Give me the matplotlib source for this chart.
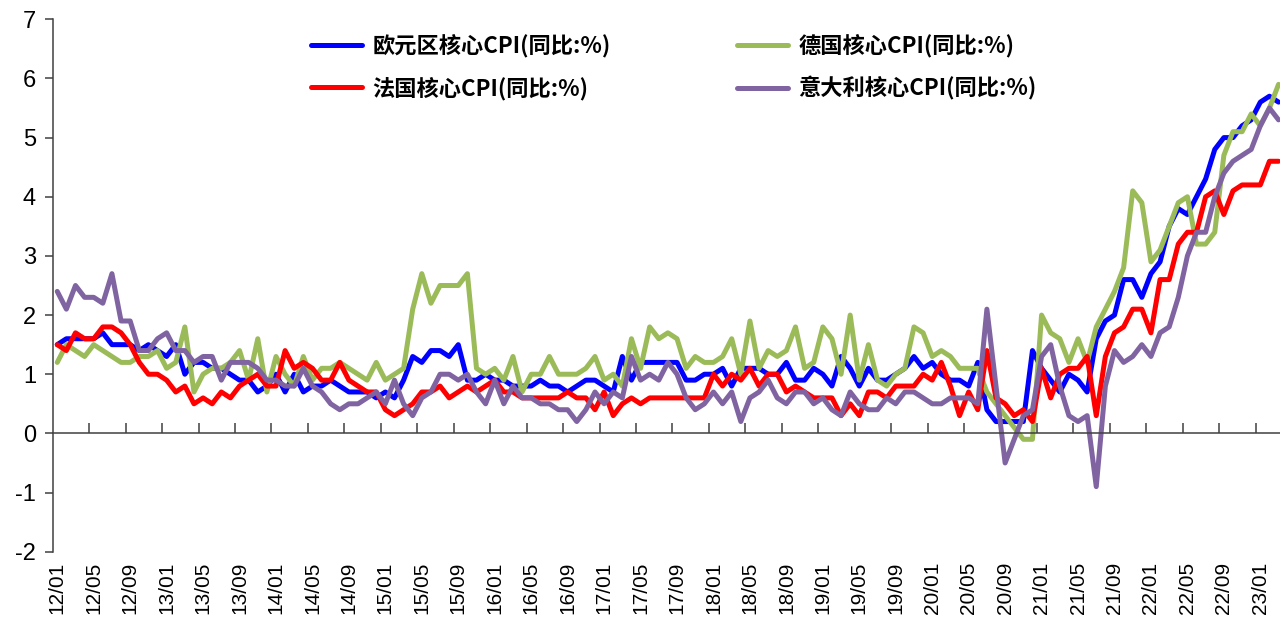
import matplotlib
matplotlib.use("Agg")
import matplotlib.pyplot as plt
from matplotlib.lines import Line2D
from matplotlib.font_manager import FontProperties

# ---- data (monthly, 2012/01 .. 2023/03) ----
months = [f"{12 + k // 12:02d}/{k % 12 + 1:02d}" for k in range(135)]
tick_labels = months[::4]

ez_core = [1.5, 1.6, 1.6, 1.6, 1.6, 1.7, 1.5, 1.5, 1.5, 1.4, 1.5, 1.4,
           1.3, 1.5, 1.0, 1.2, 1.2, 1.1, 1.1, 1.0, 0.9, 0.9, 0.7, 0.8,
           1.0, 0.7, 1.0, 0.7, 0.8, 0.8, 0.9, 0.8, 0.7, 0.7,
           0.7, 0.6, 0.7, 0.6, 0.9, 1.3, 1.2, 1.4, 1.4, 1.3, 1.5, 0.9,
           0.9, 1.0, 0.9, 0.9, 0.8, 0.8, 0.8, 0.9, 0.8, 0.8, 0.7, 0.8,
           0.9, 0.9, 0.8, 0.7, 1.3, 0.9, 1.2, 1.2, 1.2,
           1.2, 1.2, 0.9, 0.9, 1.0, 1.0, 1.1, 0.8, 1.1, 1.1, 1.1, 1.0,
           1.0, 1.2, 0.9, 0.9, 1.1, 1.0, 0.8, 1.3, 1.1, 0.8, 1.1, 0.9,
           0.9, 1.0, 1.1, 1.3, 1.1, 1.2, 1.0, 0.9, 0.9, 0.8, 1.2,
           0.4, 0.2, 0.2, 0.2, 0.2, 1.4, 1.1, 0.9, 0.7, 1.0, 0.9, 0.7,
           1.6, 1.9, 2.0, 2.6, 2.6, 2.3, 2.7, 2.9, 3.5, 3.8, 3.7, 4.0,
           4.3, 4.8, 5.0, 5.0, 5.2, 5.3, 5.6, 5.7, 5.6]

de_core = [1.2, 1.5, 1.4, 1.3, 1.5, 1.4, 1.3, 1.2, 1.2, 1.3, 1.3, 1.4,
           1.1, 1.2, 1.8, 0.7, 1.0, 1.1, 1.1, 1.2, 1.4, 0.9, 1.6, 0.7,
           1.3, 1.0, 0.8, 1.3, 0.9, 1.1, 1.1, 1.2, 1.1, 1.0,
           0.9, 1.2, 0.9, 1.0, 1.1, 2.1, 2.7, 2.2, 2.5, 2.5, 2.5, 2.7,
           1.1, 1.0, 1.1, 0.9, 1.3, 0.7, 1.0, 1.0, 1.3, 1.0, 1.0, 1.0,
           1.1, 1.3, 0.9, 1.0, 0.8, 1.6, 1.1, 1.8, 1.6,
           1.7, 1.6, 1.1, 1.3, 1.2, 1.2, 1.3, 1.6, 1.0, 1.9, 1.1, 1.4,
           1.3, 1.4, 1.8, 1.1, 1.2, 1.8, 1.6, 1.0, 2.0, 0.9, 1.5, 0.9,
           0.8, 1.0, 1.1, 1.8, 1.7, 1.3, 1.4, 1.3, 1.1, 1.1, 1.1,
           0.7, 0.5, 0.3, 0.1, -0.1, -0.1, 2.0, 1.7, 1.6, 1.2, 1.6, 1.2,
           1.8, 2.1, 2.4, 2.8, 4.1, 3.9, 2.9, 3.1, 3.5, 3.9, 4.0, 3.2,
           3.2, 3.4, 4.7, 5.1, 5.1, 5.4, 5.2, 5.5, 5.9]

fr_core = [1.5, 1.4, 1.7, 1.6, 1.6, 1.8, 1.8, 1.7, 1.5, 1.2, 1.0, 1.0,
           0.9, 0.7, 0.8, 0.5, 0.6, 0.5, 0.7, 0.6, 0.8, 0.9, 1.0, 0.8,
           0.8, 1.4, 1.1, 1.2, 1.1, 0.9, 0.9, 1.2, 0.9, 0.8,
           0.7, 0.7, 0.4, 0.3, 0.4, 0.5, 0.7, 0.7, 0.8, 0.6, 0.7, 0.8,
           0.7, 0.8, 0.9, 0.7, 0.7, 0.6, 0.6, 0.6, 0.6, 0.6, 0.7, 0.6,
           0.6, 0.4, 0.7, 0.3, 0.5, 0.6, 0.5, 0.6, 0.6,
           0.6, 0.6, 0.6, 0.6, 0.6, 1.0, 0.8, 1.0, 0.9, 1.1, 0.8, 1.0,
           1.0, 0.7, 0.8, 0.7, 0.6, 0.6, 0.6, 0.3, 0.5, 0.3, 0.7, 0.7,
           0.6, 0.8, 0.8, 0.8, 1.0, 0.9, 1.2, 0.8, 0.3, 0.7, 0.4,
           1.4, 0.6, 0.5, 0.3, 0.4, 0.2, 1.1, 0.6, 1.0, 1.1, 1.1, 1.3,
           0.3, 1.3, 1.7, 1.8, 2.1, 2.1, 1.7, 2.6, 2.6, 3.2, 3.4, 3.4,
           4.0, 4.1, 3.7, 4.1, 4.2, 4.2, 4.2, 4.6, 4.6]

it_core = [2.4, 2.1, 2.5, 2.3, 2.3, 2.2, 2.7, 1.9, 1.9, 1.4, 1.4, 1.6,
           1.7, 1.4, 1.4, 1.2, 1.3, 1.3, 0.9, 1.2, 1.2, 1.2, 1.1, 0.9,
           0.9, 0.8, 0.8, 1.1, 0.8, 0.7, 0.5, 0.4, 0.5, 0.5,
           0.6, 0.7, 0.5, 0.9, 0.5, 0.3, 0.6, 0.7, 1.0, 1.0, 0.9, 1.0,
           0.7, 0.5, 0.9, 0.5, 0.8, 0.6, 0.6, 0.5, 0.5, 0.4, 0.4, 0.2,
           0.4, 0.7, 0.5, 0.7, 0.6, 1.3, 0.9, 1.0, 0.9,
           1.2, 1.0, 0.6, 0.4, 0.5, 0.7, 0.5, 0.7, 0.2, 0.6, 0.7, 0.9,
           0.6, 0.5, 0.7, 0.7, 0.5, 0.6, 0.4, 0.3, 0.7, 0.5, 0.4, 0.4,
           0.6, 0.5, 0.7, 0.7, 0.6, 0.5, 0.5, 0.6, 0.6, 0.6, 0.5,
           2.1, 0.8, -0.5, -0.1, 0.3, 0.4, 1.3, 1.5, 0.8, 0.3, 0.2, 0.3,
           -0.9, 0.8, 1.4, 1.2, 1.3, 1.5, 1.3, 1.7, 1.8, 2.3, 3.0, 3.4,
           3.4, 4.0, 4.4, 4.6, 4.7, 4.8, 5.2, 5.5, 5.3]

series_names = ["欧元区核心CPI(同比:%)", "德国核心CPI(同比:%)",
                "法国核心CPI(同比:%)", "意大利核心CPI(同比:%)"]
series_colors = ["#0000FF", "#9BBB59", "#FF0000", "#8064A2"]

# ---- figure ----
plt.rcParams['font.family'] = ['Liberation Sans', 'DejaVu Sans']
W, H = 1280, 627
fig = plt.figure(figsize=(W / 100, H / 100), dpi=100)
ax = fig.add_axes([52.7 / W, (H - 551.7) / H, (W - 52.7) / W, (551.7 - 19.3) / H])

xs = list(range(len(months)))
for vals, col in zip([ez_core, de_core, fr_core, it_core], series_colors):
    ax.plot(xs, vals, color=col, lw=3.6, solid_joinstyle='round',
            solid_capstyle='round', clip_on=False)

ax.set_xlim(-0.5, 134.16)
ax.set_ylim(-2, 7)
ax.set_yticks(range(-2, 8))
ax.set_yticklabels([str(v) for v in range(-2, 8)])
spine_col = '#404040'
for s in ['top', 'right']:
    ax.spines[s].set_visible(False)
ax.spines['left'].set_color(spine_col)
ax.spines['left'].set_linewidth(1.1)
ax.spines['bottom'].set_position(('data', 0))
ax.spines['bottom'].set_color(spine_col)
ax.spines['bottom'].set_linewidth(1.1)
ax.tick_params(axis='y', direction='out', length=6, width=1.1, color=spine_col,
               labelsize=17, labelcolor='black', pad=6)
ax.set_xticks([i - 0.5 for i in range(4, len(months), 4)])
ax.tick_params(axis='x', direction='in', length=7, width=1.1, color=spine_col,
               labelbottom=False)

sec = ax.secondary_xaxis('bottom')
sec.set_xticks(list(range(0, len(months), 4)), labels=tick_labels, rotation=90)
sec.spines['bottom'].set_visible(False)
sec.tick_params(length=0, pad=7, labelsize=15, labelcolor='black')

# ---- legend (two columns) ----
fp = FontProperties(family=['Noto Sans CJK SC', 'DejaVu Sans'], size=16, weight='bold')
h = [Line2D([], [], color=c, lw=3.6, solid_capstyle='round') for c in series_colors]
common = dict(loc='upper left', frameon=False, prop=fp, handlelength=2.3,
              handletextpad=0.45, labelspacing=0.85, borderpad=0, borderaxespad=0)
fig.legend(handles=[h[0], h[2]], labels=[series_names[0], series_names[2]],
           bbox_to_anchor=(311 / W, 1 - 34 / H), **common)
fig.legend(handles=[h[1], h[3]], labels=[series_names[1], series_names[3]],
           bbox_to_anchor=(737 / W, 1 - 34 / H), **common)

fig.savefig("out.png", dpi=100)
